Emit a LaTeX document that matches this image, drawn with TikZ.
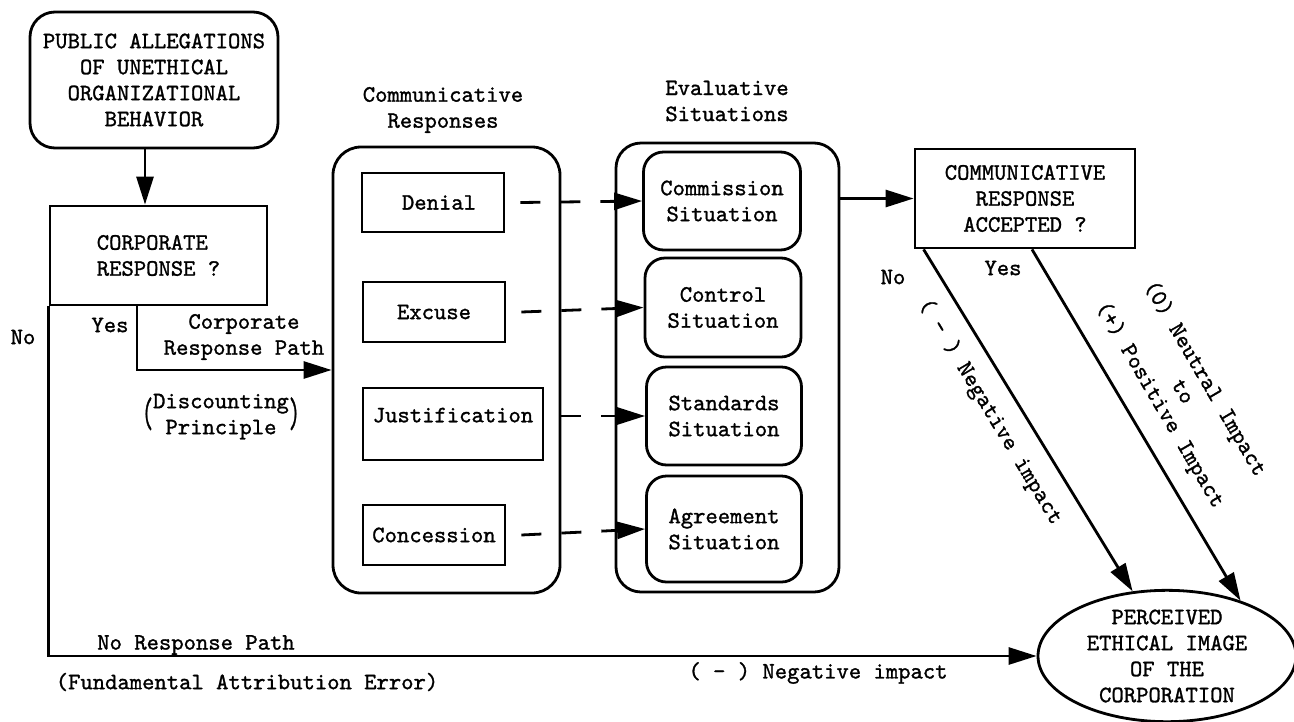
\documentclass[tikz,border=0pt]{standalone}
\usepackage{fontspec}
\usepackage{graphicx}
\newfontfamily\diagtt{lmmono10-regular.otf}[FakeBold=1.2]
\usetikzlibrary{arrows.meta,shapes.geometric,calc}
\begin{document}
\begin{tikzpicture}[x=1pt,y=-1pt,
  every node/.style={font=\fontsize{23.5}{26}\selectfont\diagtt, inner sep=0pt, align=center},
  lw/.style={line width=2.8pt},
  box/.style={draw, lw, rectangle},
  rbox/.style={draw, lw, rectangle, rounded corners=#1},
  arr/.style={lw, -{Triangle[length=28pt,width=17pt]}},
  darr/.style={arr, dash pattern=on 20pt off 20pt}]
\path[use as bounding box, fill=white] (0,0) rectangle (1294,721);

% main boxes
\node[rbox=25pt, minimum width=248pt, minimum height=136pt] (pub) at (154,80)
  {PUBLIC ALLEGATIONS\\OF UNETHICAL\\ORGANIZATIONAL\\BEHAVIOR};
\node[box, minimum width=217pt, minimum height=99pt, align=left] (corp) at (158.5,255.5)
  {CORPORATE\\RESPONSE ?};

% communicative responses
\node (hcr) at (443,110) {Communicative\\Responses};
\node[rbox=28pt, minimum width=227pt, minimum height=446pt] (crbox) at (446.5,370) {};
\node[box, minimum width=142pt, minimum height=59pt] (den) at (433,202.5) {\hspace*{12pt}Denial};
\node[box, minimum width=142pt, minimum height=60pt] (exc) at (434,312) {Excuse};
\node[box, minimum width=180pt, minimum height=72pt, text depth=18pt] (jus) at (453,424) {Justification};
\node[box, minimum width=142pt, minimum height=60pt] (con) at (434,535) {Concession};

% evaluative situations
\node (hes) at (727,101) {Evaluative\\Situations};
\node[rbox=25pt, minimum width=223pt, minimum height=449pt] (evbox) at (727.5,367.5) {};
\node[rbox=20pt, minimum width=157pt, minimum height=98pt] (com) at (722,201) {Commission\\Situation};
\node[rbox=20pt, minimum width=156pt, minimum height=99pt] (ctl) at (723,307.5) {Control\\Situation};
\node[rbox=20pt, minimum width=155pt, minimum height=98pt] (std) at (724,416) {Standards\\Situation};
\node[rbox=20pt, minimum width=155pt, minimum height=106pt] (agr) at (724,529) {Agreement\\Situation};

% acceptance and image
\node[box, minimum width=220pt, minimum height=99pt] (acc) at (1025,198.5)
  {COMMUNICATIVE\\RESPONSE\\ACCEPTED ?};
\node[ellipse, draw, lw, minimum width=258pt, minimum height=130pt] (img) at (1167,656)
  {PERCEIVED\\ETHICAL IMAGE\\OF THE\\CORPORATION};

% connectors
\draw[arr] ([xshift=-9pt]pub.south) -- ([xshift=-9pt]pub.south |- corp.north);
\draw[arr] ([xshift=-21.5pt]corp.south) |- (crbox.west);
\draw[arr] (corp.south west) |- (img.west);
\draw[darr] ([xshift=15pt]den.east) -- (com.west);
\draw[darr] ([xshift=15pt]exc.east) -- (ctl.west);
\draw[darr] (crbox.east |- std.west) -- (std.west);
\draw[darr] ([xshift=15pt]con.east) -- (agr.west);
\draw[arr] (evbox.east |- acc.west) -- (acc.west);
\draw[arr] ([xshift=10pt]acc.south west) -- (img.118);
\draw[arr] ([xshift=7pt]acc.south) -- (img.37);

% labels
\node (lno) at (23,337) {No};
\node (lyes) at (110,325) {Yes};
\node (lcrp) at (244,337) {Corporate\\Response Path};
\node (ldp) at (221,416) {\raisebox{-4.5pt}{\scalebox{0.9}[1.8]{(}}\begin{tabular}{@{}c@{}}Discounting\\Principle\end{tabular}\raisebox{-4.5pt}{\scalebox{0.9}[1.8]{)}}};
\node (lnrp) at (196,645) {No Response Path};
\node (lfae) at (247,682) {(Fundamental Attribution Error)};
\node (lneg) at (818,673) {( - ) Negative impact};
\node (lno2) at (893,277) {No};
\node (lyes2) at (1003,268) {Yes};
\node[rotate=-58.9] (lnegd) at (990,412) {( - ) Negative impact};
\node[rotate=-59.7] (lpos) at (1182,392) {(0) Neutral Impact\\to\\(+) Positive Impact};
\end{tikzpicture}
\end{document}
